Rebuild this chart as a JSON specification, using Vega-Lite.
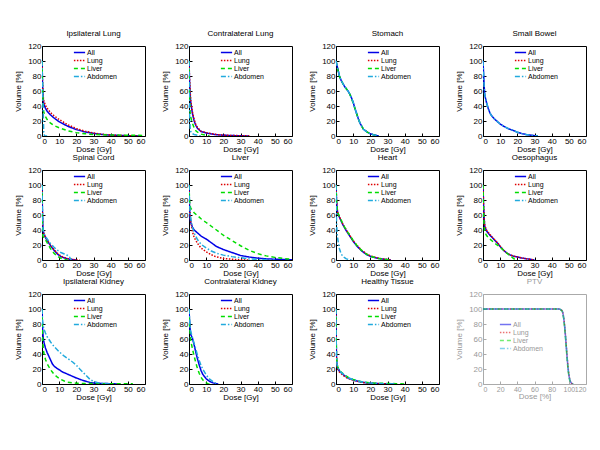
{
"$schema":"https://vega.github.io/schema/vega-lite/v6.json",
"padding":{"left":14,"top":29,"right":5,"bottom":5},
"config":{"font":"Liberation Sans","view":{"stroke":"black","strokeWidth":1},
"axis":{"labelFontSize":8,"titleFontSize":8,"titleFontWeight":"normal","domain":false,"grid":false,"tickSize":-3,"labelPadding":4,"tickColor":"black","labelColor":"black","titleColor":"black","titlePadding":0,"labelOverlap":false},
"axisY":{"titlePadding":5},
"title":{"fontSize":8,"fontWeight":"normal","offset":0,"color":"black","frame":"group"},
"legend":{"symbolType":"M-1.6,0H1.6","symbolSize":49,"symbolStrokeWidth":1.5,"labelFontSize":7,"rowPadding":0,"padding":0,"labelOffset":3,"title":null}},
"columns":4,
"align":"all",
"spacing":{"row":-1,"column":15},
"resolve":{"legend":{"color":"independent","strokeDash":"independent"}},
"datasets":{
"p1":[
{"s":"All","d":0,"v":100},{"s":"All","d":0.3,"v":70},{"s":"All","d":0.7,"v":50},{"s":"All","d":1,"v":43},{"s":"All","d":2,"v":37},{"s":"All","d":3,"v":33},{"s":"All","d":5,"v":28},{"s":"All","d":7,"v":24},{"s":"All","d":10,"v":19},{"s":"All","d":15,"v":13},{"s":"All","d":20,"v":8.5},{"s":"All","d":25,"v":5.5},{"s":"All","d":30,"v":3.5},{"s":"All","d":35,"v":2},{"s":"All","d":40,"v":1.2},{"s":"All","d":45,"v":0.7},{"s":"All","d":50,"v":0.4},{"s":"All","d":55,"v":0.2},{"s":"All","d":58,"v":0},
{"s":"Lung","d":0,"v":100},{"s":"Lung","d":0.3,"v":72},{"s":"Lung","d":0.7,"v":53},{"s":"Lung","d":1,"v":47},{"s":"Lung","d":2,"v":41},{"s":"Lung","d":3,"v":37},{"s":"Lung","d":5,"v":31},{"s":"Lung","d":7,"v":27},{"s":"Lung","d":10,"v":22},{"s":"Lung","d":15,"v":15},{"s":"Lung","d":20,"v":10},{"s":"Lung","d":25,"v":6.5},{"s":"Lung","d":30,"v":4},{"s":"Lung","d":35,"v":2.3},{"s":"Lung","d":40,"v":1.3},{"s":"Lung","d":45,"v":0.7},{"s":"Lung","d":50,"v":0.3},{"s":"Lung","d":55,"v":0.1},{"s":"Lung","d":58,"v":0},
{"s":"Liver","d":0,"v":100},{"s":"Liver","d":0.3,"v":65},{"s":"Liver","d":0.7,"v":40},{"s":"Liver","d":1,"v":32},{"s":"Liver","d":2,"v":26},{"s":"Liver","d":3,"v":22},{"s":"Liver","d":5,"v":17},{"s":"Liver","d":7,"v":14},{"s":"Liver","d":10,"v":11},{"s":"Liver","d":15,"v":7},{"s":"Liver","d":20,"v":4.5},{"s":"Liver","d":25,"v":3},{"s":"Liver","d":30,"v":2},{"s":"Liver","d":40,"v":1.3},{"s":"Liver","d":50,"v":1},{"s":"Liver","d":60,"v":0.8},
{"s":"Abdomen","d":0,"v":100},{"s":"Abdomen","d":0.5,"v":50},{"s":"Abdomen","d":1,"v":5},{"s":"Abdomen","d":1.5,"v":0},{"s":"Abdomen","d":3,"v":0}],
"p2":[
{"s":"All","d":0,"v":100},{"s":"All","d":0.3,"v":75},{"s":"All","d":0.7,"v":55},{"s":"All","d":1,"v":45},{"s":"All","d":2,"v":30},{"s":"All","d":3,"v":20},{"s":"All","d":4,"v":14},{"s":"All","d":5,"v":10},{"s":"All","d":7,"v":6},{"s":"All","d":10,"v":4},{"s":"All","d":15,"v":2},{"s":"All","d":20,"v":1},{"s":"All","d":25,"v":0.6},{"s":"All","d":30,"v":0.3},{"s":"All","d":35,"v":0},
{"s":"Lung","d":0,"v":100},{"s":"Lung","d":0.3,"v":78},{"s":"Lung","d":0.7,"v":58},{"s":"Lung","d":1,"v":48},{"s":"Lung","d":2,"v":32},{"s":"Lung","d":3,"v":22},{"s":"Lung","d":4,"v":15},{"s":"Lung","d":5,"v":11},{"s":"Lung","d":7,"v":6.5},{"s":"Lung","d":10,"v":4.5},{"s":"Lung","d":15,"v":2.2},{"s":"Lung","d":20,"v":1.2},{"s":"Lung","d":25,"v":0.7},{"s":"Lung","d":30,"v":0.4},{"s":"Lung","d":36,"v":0},
{"s":"Liver","d":0,"v":100},{"s":"Liver","d":0.3,"v":55},{"s":"Liver","d":0.7,"v":30},{"s":"Liver","d":1,"v":25},{"s":"Liver","d":2,"v":17},{"s":"Liver","d":3,"v":11},{"s":"Liver","d":4,"v":7},{"s":"Liver","d":5,"v":5},{"s":"Liver","d":7,"v":2.5},{"s":"Liver","d":10,"v":0.8},{"s":"Liver","d":12,"v":0},
{"s":"Abdomen","d":0,"v":100},{"s":"Abdomen","d":0.3,"v":30},{"s":"Abdomen","d":0.7,"v":10},{"s":"Abdomen","d":1,"v":6},{"s":"Abdomen","d":2,"v":3},{"s":"Abdomen","d":3,"v":2},{"s":"Abdomen","d":5,"v":1},{"s":"Abdomen","d":7,"v":0}],
"p3":[
{"s":"All","d":0,"v":100},{"s":"All","d":0.5,"v":95},{"s":"All","d":1,"v":90},{"s":"All","d":2,"v":80},{"s":"All","d":3,"v":74},{"s":"All","d":4,"v":70},{"s":"All","d":5,"v":66},{"s":"All","d":6,"v":63},{"s":"All","d":7,"v":60},{"s":"All","d":8,"v":56},{"s":"All","d":9,"v":51},{"s":"All","d":10,"v":45},{"s":"All","d":11,"v":37},{"s":"All","d":12,"v":30},{"s":"All","d":13,"v":23},{"s":"All","d":14,"v":17},{"s":"All","d":15,"v":13},{"s":"All","d":16,"v":9},{"s":"All","d":18,"v":5.5},{"s":"All","d":20,"v":3},{"s":"All","d":22,"v":1.5},{"s":"All","d":24,"v":0.5},{"s":"All","d":25,"v":0},
{"s":"Liver","d":0,"v":100},{"s":"Liver","d":0.5,"v":94},{"s":"Liver","d":1,"v":89},{"s":"Liver","d":2,"v":80},{"s":"Liver","d":3,"v":74},{"s":"Liver","d":4,"v":70},{"s":"Liver","d":5,"v":66},{"s":"Liver","d":6,"v":63},{"s":"Liver","d":7,"v":60},{"s":"Liver","d":8,"v":56},{"s":"Liver","d":9,"v":50},{"s":"Liver","d":10,"v":44},{"s":"Liver","d":11,"v":37},{"s":"Liver","d":12,"v":30},{"s":"Liver","d":13,"v":23},{"s":"Liver","d":14,"v":17},{"s":"Liver","d":15,"v":13},{"s":"Liver","d":16,"v":9},{"s":"Liver","d":18,"v":5.5},{"s":"Liver","d":20,"v":3},{"s":"Liver","d":22,"v":1.5},{"s":"Liver","d":24,"v":0.5},{"s":"Liver","d":25,"v":0},
{"s":"Abdomen","d":0,"v":100},{"s":"Abdomen","d":0.5,"v":95},{"s":"Abdomen","d":1,"v":90},{"s":"Abdomen","d":2,"v":80},{"s":"Abdomen","d":3,"v":74},{"s":"Abdomen","d":4,"v":70},{"s":"Abdomen","d":5,"v":66},{"s":"Abdomen","d":6,"v":63},{"s":"Abdomen","d":7,"v":60},{"s":"Abdomen","d":8,"v":56},{"s":"Abdomen","d":9,"v":51},{"s":"Abdomen","d":10,"v":45},{"s":"Abdomen","d":11,"v":37},{"s":"Abdomen","d":12,"v":30},{"s":"Abdomen","d":13,"v":23},{"s":"Abdomen","d":14,"v":17},{"s":"Abdomen","d":15,"v":13},{"s":"Abdomen","d":16,"v":9},{"s":"Abdomen","d":18,"v":5.5},{"s":"Abdomen","d":20,"v":3},{"s":"Abdomen","d":22,"v":1.5},{"s":"Abdomen","d":24,"v":0.5},{"s":"Abdomen","d":25,"v":0}],
"p4":[
{"s":"All","d":0,"v":100},{"s":"All","d":0.3,"v":85},{"s":"All","d":0.6,"v":70},{"s":"All","d":1,"v":55},{"s":"All","d":2,"v":45},{"s":"All","d":3,"v":37},{"s":"All","d":4,"v":31},{"s":"All","d":5,"v":27},{"s":"All","d":7,"v":22},{"s":"All","d":10,"v":16},{"s":"All","d":12,"v":13},{"s":"All","d":15,"v":9.5},{"s":"All","d":18,"v":7},{"s":"All","d":20,"v":5},{"s":"All","d":23,"v":3},{"s":"All","d":25,"v":2},{"s":"All","d":28,"v":1},{"s":"All","d":30,"v":0.5},{"s":"All","d":32,"v":0},
{"s":"Abdomen","d":0,"v":100},{"s":"Abdomen","d":0.3,"v":85},{"s":"Abdomen","d":0.6,"v":70},{"s":"Abdomen","d":1,"v":55},{"s":"Abdomen","d":2,"v":45},{"s":"Abdomen","d":3,"v":37},{"s":"Abdomen","d":4,"v":31},{"s":"Abdomen","d":5,"v":27},{"s":"Abdomen","d":7,"v":22},{"s":"Abdomen","d":10,"v":16},{"s":"Abdomen","d":12,"v":13},{"s":"Abdomen","d":15,"v":9.5},{"s":"Abdomen","d":18,"v":7},{"s":"Abdomen","d":20,"v":5},{"s":"Abdomen","d":23,"v":3},{"s":"Abdomen","d":25,"v":2},{"s":"Abdomen","d":28,"v":1},{"s":"Abdomen","d":30,"v":0.5},{"s":"Abdomen","d":32,"v":0}],
"p5":[
{"s":"All","d":0,"v":100},{"s":"All","d":0.2,"v":70},{"s":"All","d":0.5,"v":45},{"s":"All","d":1,"v":35},{"s":"All","d":2,"v":30},{"s":"All","d":3,"v":26},{"s":"All","d":5,"v":19},{"s":"All","d":7,"v":13},{"s":"All","d":9,"v":8},{"s":"All","d":10,"v":6},{"s":"All","d":12,"v":3.5},{"s":"All","d":15,"v":1.5},{"s":"All","d":18,"v":0.5},{"s":"All","d":20,"v":0},
{"s":"Lung","d":0,"v":100},{"s":"Lung","d":0.2,"v":68},{"s":"Lung","d":0.5,"v":44},{"s":"Lung","d":1,"v":36},{"s":"Lung","d":2,"v":31},{"s":"Lung","d":3,"v":27},{"s":"Lung","d":5,"v":20},{"s":"Lung","d":7,"v":14},{"s":"Lung","d":9,"v":9},{"s":"Lung","d":10,"v":7},{"s":"Lung","d":12,"v":4},{"s":"Lung","d":15,"v":2},{"s":"Lung","d":18,"v":0.7},{"s":"Lung","d":20,"v":0.2},{"s":"Lung","d":22,"v":0},
{"s":"Liver","d":0,"v":100},{"s":"Liver","d":0.2,"v":50},{"s":"Liver","d":0.5,"v":32},{"s":"Liver","d":1,"v":30},{"s":"Liver","d":2,"v":27},{"s":"Liver","d":3,"v":23},{"s":"Liver","d":5,"v":15},{"s":"Liver","d":7,"v":9},{"s":"Liver","d":9,"v":5},{"s":"Liver","d":10,"v":3.5},{"s":"Liver","d":12,"v":1.5},{"s":"Liver","d":14,"v":0.5},{"s":"Liver","d":15,"v":0},
{"s":"Abdomen","d":0,"v":100},{"s":"Abdomen","d":0.3,"v":60},{"s":"Abdomen","d":0.7,"v":40},{"s":"Abdomen","d":1,"v":36},{"s":"Abdomen","d":2,"v":32},{"s":"Abdomen","d":3,"v":28},{"s":"Abdomen","d":5,"v":22},{"s":"Abdomen","d":7,"v":17},{"s":"Abdomen","d":9,"v":13},{"s":"Abdomen","d":11,"v":10},{"s":"Abdomen","d":13,"v":8},{"s":"Abdomen","d":15,"v":6},{"s":"Abdomen","d":16,"v":4},{"s":"Abdomen","d":17,"v":0}],
"p6":[
{"s":"All","d":0,"v":100},{"s":"All","d":0.3,"v":70},{"s":"All","d":0.7,"v":55},{"s":"All","d":1,"v":50},{"s":"All","d":2,"v":44},{"s":"All","d":3,"v":40},{"s":"All","d":5,"v":36},{"s":"All","d":7,"v":32},{"s":"All","d":10,"v":28},{"s":"All","d":13,"v":23},{"s":"All","d":16,"v":18},{"s":"All","d":20,"v":14},{"s":"All","d":25,"v":10},{"s":"All","d":30,"v":6},{"s":"All","d":35,"v":4},{"s":"All","d":40,"v":2.5},{"s":"All","d":45,"v":1.5},{"s":"All","d":50,"v":1},{"s":"All","d":55,"v":0.6},{"s":"All","d":60,"v":0.3},
{"s":"Lung","d":0,"v":100},{"s":"Lung","d":0.3,"v":70},{"s":"Lung","d":0.7,"v":58},{"s":"Lung","d":1,"v":52},{"s":"Lung","d":2,"v":38},{"s":"Lung","d":3,"v":30},{"s":"Lung","d":5,"v":22},{"s":"Lung","d":7,"v":16},{"s":"Lung","d":10,"v":11},{"s":"Lung","d":13,"v":7},{"s":"Lung","d":15,"v":5},{"s":"Lung","d":18,"v":3},{"s":"Lung","d":20,"v":2},{"s":"Lung","d":25,"v":1},{"s":"Lung","d":30,"v":0.3},{"s":"Lung","d":35,"v":0},
{"s":"Liver","d":0,"v":100},{"s":"Liver","d":0.3,"v":80},{"s":"Liver","d":0.7,"v":72},{"s":"Liver","d":1,"v":69},{"s":"Liver","d":2,"v":66},{"s":"Liver","d":3,"v":63},{"s":"Liver","d":5,"v":59},{"s":"Liver","d":7,"v":55},{"s":"Liver","d":10,"v":50},{"s":"Liver","d":13,"v":45},{"s":"Liver","d":16,"v":40},{"s":"Liver","d":20,"v":33},{"s":"Liver","d":25,"v":26},{"s":"Liver","d":30,"v":19},{"s":"Liver","d":35,"v":13},{"s":"Liver","d":40,"v":8.5},{"s":"Liver","d":45,"v":5.5},{"s":"Liver","d":50,"v":3.5},{"s":"Liver","d":55,"v":2},{"s":"Liver","d":60,"v":1},
{"s":"Abdomen","d":0,"v":100},{"s":"Abdomen","d":0.3,"v":75},{"s":"Abdomen","d":0.7,"v":62},{"s":"Abdomen","d":1,"v":56},{"s":"Abdomen","d":2,"v":44},{"s":"Abdomen","d":3,"v":36},{"s":"Abdomen","d":5,"v":27},{"s":"Abdomen","d":7,"v":21},{"s":"Abdomen","d":10,"v":16},{"s":"Abdomen","d":13,"v":12},{"s":"Abdomen","d":16,"v":9},{"s":"Abdomen","d":20,"v":6.5},{"s":"Abdomen","d":25,"v":4.5},{"s":"Abdomen","d":30,"v":3},{"s":"Abdomen","d":35,"v":1.5},{"s":"Abdomen","d":40,"v":0.8},{"s":"Abdomen","d":45,"v":0.3},{"s":"Abdomen","d":50,"v":0}],
"p7":[
{"s":"All","d":0,"v":100},{"s":"All","d":0.3,"v":80},{"s":"All","d":0.7,"v":68},{"s":"All","d":1,"v":62},{"s":"All","d":2,"v":57},{"s":"All","d":3,"v":52},{"s":"All","d":4,"v":47},{"s":"All","d":5,"v":43},{"s":"All","d":6,"v":39},{"s":"All","d":8,"v":32},{"s":"All","d":10,"v":25},{"s":"All","d":12,"v":19},{"s":"All","d":15,"v":12},{"s":"All","d":18,"v":7},{"s":"All","d":20,"v":5},{"s":"All","d":23,"v":3},{"s":"All","d":25,"v":2},{"s":"All","d":28,"v":1},{"s":"All","d":30,"v":0.5},{"s":"All","d":32,"v":0},
{"s":"Lung","d":0,"v":100},{"s":"Lung","d":0.3,"v":81},{"s":"Lung","d":0.7,"v":69},{"s":"Lung","d":1,"v":63},{"s":"Lung","d":2,"v":58},{"s":"Lung","d":3,"v":53},{"s":"Lung","d":4,"v":48},{"s":"Lung","d":5,"v":44},{"s":"Lung","d":6,"v":40},{"s":"Lung","d":8,"v":33},{"s":"Lung","d":10,"v":26},{"s":"Lung","d":12,"v":20},{"s":"Lung","d":15,"v":13},{"s":"Lung","d":18,"v":8},{"s":"Lung","d":20,"v":5.5},{"s":"Lung","d":23,"v":3.5},{"s":"Lung","d":25,"v":2.3},{"s":"Lung","d":28,"v":1.2},{"s":"Lung","d":30,"v":0.6},{"s":"Lung","d":32,"v":0},
{"s":"Liver","d":0,"v":100},{"s":"Liver","d":0.3,"v":80},{"s":"Liver","d":0.7,"v":68},{"s":"Liver","d":1,"v":63},{"s":"Liver","d":2,"v":58},{"s":"Liver","d":3,"v":53},{"s":"Liver","d":4,"v":48},{"s":"Liver","d":5,"v":44},{"s":"Liver","d":6,"v":40},{"s":"Liver","d":8,"v":33},{"s":"Liver","d":10,"v":26},{"s":"Liver","d":12,"v":20},{"s":"Liver","d":15,"v":12.5},{"s":"Liver","d":18,"v":7.5},{"s":"Liver","d":20,"v":5},{"s":"Liver","d":23,"v":3},{"s":"Liver","d":25,"v":2},{"s":"Liver","d":28,"v":1},{"s":"Liver","d":30,"v":0.5},{"s":"Liver","d":31,"v":0},
{"s":"Abdomen","d":0,"v":100},{"s":"Abdomen","d":0.3,"v":50},{"s":"Abdomen","d":0.7,"v":35},{"s":"Abdomen","d":1,"v":28},{"s":"Abdomen","d":2,"v":15},{"s":"Abdomen","d":3,"v":8},{"s":"Abdomen","d":4,"v":5},{"s":"Abdomen","d":5,"v":3},{"s":"Abdomen","d":6,"v":1.5},{"s":"Abdomen","d":8,"v":0.5},{"s":"Abdomen","d":9,"v":0}],
"p8":[
{"s":"All","d":0,"v":100},{"s":"All","d":0.3,"v":75},{"s":"All","d":0.7,"v":55},{"s":"All","d":1,"v":45},{"s":"All","d":2,"v":39},{"s":"All","d":3,"v":36},{"s":"All","d":4,"v":33},{"s":"All","d":5,"v":31},{"s":"All","d":7,"v":26},{"s":"All","d":9,"v":21},{"s":"All","d":10,"v":18},{"s":"All","d":12,"v":13},{"s":"All","d":14,"v":9},{"s":"All","d":16,"v":6.5},{"s":"All","d":18,"v":5},{"s":"All","d":20,"v":4},{"s":"All","d":23,"v":2.5},{"s":"All","d":25,"v":1.8},{"s":"All","d":28,"v":0.8},{"s":"All","d":30,"v":0},
{"s":"Lung","d":0,"v":100},{"s":"Lung","d":0.3,"v":76},{"s":"Lung","d":0.7,"v":56},{"s":"Lung","d":1,"v":46},{"s":"Lung","d":2,"v":40},{"s":"Lung","d":3,"v":37},{"s":"Lung","d":4,"v":34},{"s":"Lung","d":5,"v":31.5},{"s":"Lung","d":7,"v":26.5},{"s":"Lung","d":9,"v":21.5},{"s":"Lung","d":10,"v":18.5},{"s":"Lung","d":12,"v":13},{"s":"Lung","d":14,"v":9},{"s":"Lung","d":16,"v":6.5},{"s":"Lung","d":18,"v":5},{"s":"Lung","d":20,"v":4},{"s":"Lung","d":23,"v":2.5},{"s":"Lung","d":25,"v":1.8},{"s":"Lung","d":28,"v":0.8},{"s":"Lung","d":30,"v":0},
{"s":"Liver","d":0,"v":100},{"s":"Liver","d":0.3,"v":65},{"s":"Liver","d":0.7,"v":45},{"s":"Liver","d":1,"v":37},{"s":"Liver","d":2,"v":33},{"s":"Liver","d":3,"v":30},{"s":"Liver","d":5,"v":26},{"s":"Liver","d":7,"v":22},{"s":"Liver","d":9,"v":19},{"s":"Liver","d":11,"v":15},{"s":"Liver","d":13,"v":11},{"s":"Liver","d":15,"v":7},{"s":"Liver","d":17,"v":3.5},{"s":"Liver","d":19,"v":0}],
"p9":[
{"s":"All","d":0,"v":100},{"s":"All","d":0.3,"v":75},{"s":"All","d":0.7,"v":62},{"s":"All","d":1,"v":57},{"s":"All","d":2,"v":48},{"s":"All","d":3,"v":42},{"s":"All","d":4,"v":37},{"s":"All","d":5,"v":32},{"s":"All","d":6,"v":27},{"s":"All","d":7,"v":24},{"s":"All","d":8,"v":22},{"s":"All","d":10,"v":19},{"s":"All","d":12,"v":16},{"s":"All","d":15,"v":13},{"s":"All","d":18,"v":10},{"s":"All","d":20,"v":8},{"s":"All","d":23,"v":5.5},{"s":"All","d":25,"v":4},{"s":"All","d":28,"v":2},{"s":"All","d":30,"v":1.2},{"s":"All","d":35,"v":0.7},{"s":"All","d":40,"v":0.4},{"s":"All","d":45,"v":0},
{"s":"Liver","d":0,"v":100},{"s":"Liver","d":0.3,"v":65},{"s":"Liver","d":0.7,"v":48},{"s":"Liver","d":1,"v":42},{"s":"Liver","d":2,"v":33},{"s":"Liver","d":3,"v":27},{"s":"Liver","d":4,"v":23},{"s":"Liver","d":5,"v":19},{"s":"Liver","d":7,"v":13},{"s":"Liver","d":9,"v":9},{"s":"Liver","d":11,"v":6},{"s":"Liver","d":13,"v":4},{"s":"Liver","d":15,"v":2.5},{"s":"Liver","d":18,"v":1.5},{"s":"Liver","d":20,"v":1},{"s":"Liver","d":25,"v":0.6},{"s":"Liver","d":30,"v":0.5},{"s":"Liver","d":40,"v":0.4},{"s":"Liver","d":52,"v":0.3},{"s":"Liver","d":53,"v":0},
{"s":"Abdomen","d":0,"v":100},{"s":"Abdomen","d":0.3,"v":85},{"s":"Abdomen","d":0.7,"v":78},{"s":"Abdomen","d":1,"v":74},{"s":"Abdomen","d":2,"v":68},{"s":"Abdomen","d":3,"v":63},{"s":"Abdomen","d":5,"v":56},{"s":"Abdomen","d":7,"v":50},{"s":"Abdomen","d":10,"v":43},{"s":"Abdomen","d":13,"v":37},{"s":"Abdomen","d":15,"v":34},{"s":"Abdomen","d":18,"v":29},{"s":"Abdomen","d":20,"v":25},{"s":"Abdomen","d":22,"v":20},{"s":"Abdomen","d":25,"v":13},{"s":"Abdomen","d":28,"v":6},{"s":"Abdomen","d":30,"v":3.5},{"s":"Abdomen","d":33,"v":1.5},{"s":"Abdomen","d":35,"v":0.8},{"s":"Abdomen","d":40,"v":0}],
"p10":[
{"s":"All","d":0,"v":100},{"s":"All","d":0.3,"v":85},{"s":"All","d":0.7,"v":72},{"s":"All","d":1,"v":66},{"s":"All","d":2,"v":61},{"s":"All","d":3,"v":52},{"s":"All","d":4,"v":42},{"s":"All","d":5,"v":33},{"s":"All","d":6,"v":25},{"s":"All","d":7,"v":18},{"s":"All","d":8,"v":13},{"s":"All","d":10,"v":7},{"s":"All","d":12,"v":3.5},{"s":"All","d":14,"v":1.5},{"s":"All","d":16,"v":0.3},{"s":"All","d":17,"v":0},
{"s":"Liver","d":0,"v":100},{"s":"Liver","d":0.3,"v":80},{"s":"Liver","d":0.7,"v":65},{"s":"Liver","d":1,"v":58},{"s":"Liver","d":2,"v":47},{"s":"Liver","d":3,"v":37},{"s":"Liver","d":4,"v":28},{"s":"Liver","d":5,"v":20},{"s":"Liver","d":6,"v":14},{"s":"Liver","d":7,"v":9},{"s":"Liver","d":8,"v":5.5},{"s":"Liver","d":10,"v":1.5},{"s":"Liver","d":11,"v":0.5},{"s":"Liver","d":12,"v":0},
{"s":"Abdomen","d":0,"v":100},{"s":"Abdomen","d":0.3,"v":88},{"s":"Abdomen","d":0.7,"v":76},{"s":"Abdomen","d":1,"v":70},{"s":"Abdomen","d":2,"v":62},{"s":"Abdomen","d":3,"v":54},{"s":"Abdomen","d":4,"v":46},{"s":"Abdomen","d":5,"v":38},{"s":"Abdomen","d":6,"v":31},{"s":"Abdomen","d":7,"v":25},{"s":"Abdomen","d":8,"v":20},{"s":"Abdomen","d":10,"v":12},{"s":"Abdomen","d":12,"v":6.5},{"s":"Abdomen","d":14,"v":3},{"s":"Abdomen","d":16,"v":0.5},{"s":"Abdomen","d":17,"v":0}],
"p11":[
{"s":"All","d":0,"v":100},{"s":"All","d":0.1,"v":60},{"s":"All","d":0.3,"v":35},{"s":"All","d":0.6,"v":25},{"s":"All","d":1,"v":21},{"s":"All","d":2,"v":17},{"s":"All","d":3,"v":15},{"s":"All","d":5,"v":11},{"s":"All","d":7,"v":8},{"s":"All","d":10,"v":5.5},{"s":"All","d":12,"v":4},{"s":"All","d":15,"v":2.5},{"s":"All","d":18,"v":1.5},{"s":"All","d":20,"v":1},{"s":"All","d":25,"v":0.5},{"s":"All","d":30,"v":0.3},{"s":"All","d":35,"v":0},
{"s":"Lung","d":0,"v":100},{"s":"Lung","d":0.1,"v":55},{"s":"Lung","d":0.3,"v":32},{"s":"Lung","d":0.6,"v":24},{"s":"Lung","d":1,"v":20},{"s":"Lung","d":2,"v":16},{"s":"Lung","d":3,"v":14},{"s":"Lung","d":5,"v":10},{"s":"Lung","d":7,"v":7.5},{"s":"Lung","d":10,"v":5},{"s":"Lung","d":15,"v":2.2},{"s":"Lung","d":20,"v":1},{"s":"Lung","d":25,"v":0.5},{"s":"Lung","d":30,"v":0.2},{"s":"Lung","d":33,"v":0},
{"s":"Liver","d":0,"v":100},{"s":"Liver","d":0.1,"v":65},{"s":"Liver","d":0.3,"v":38},{"s":"Liver","d":0.6,"v":27},{"s":"Liver","d":1,"v":23},{"s":"Liver","d":2,"v":18},{"s":"Liver","d":3,"v":16},{"s":"Liver","d":5,"v":12},{"s":"Liver","d":7,"v":9},{"s":"Liver","d":10,"v":6},{"s":"Liver","d":15,"v":3},{"s":"Liver","d":20,"v":1.5},{"s":"Liver","d":25,"v":1},{"s":"Liver","d":30,"v":0.7},{"s":"Liver","d":35,"v":0.5},{"s":"Liver","d":40,"v":0},
{"s":"Abdomen","d":0,"v":100},{"s":"Abdomen","d":0.1,"v":62},{"s":"Abdomen","d":0.3,"v":36},{"s":"Abdomen","d":0.6,"v":26},{"s":"Abdomen","d":1,"v":22},{"s":"Abdomen","d":2,"v":18},{"s":"Abdomen","d":3,"v":15.5},{"s":"Abdomen","d":5,"v":11.5},{"s":"Abdomen","d":7,"v":8.5},{"s":"Abdomen","d":10,"v":5.8},{"s":"Abdomen","d":15,"v":2.8},{"s":"Abdomen","d":20,"v":1.2},{"s":"Abdomen","d":25,"v":0.6},{"s":"Abdomen","d":30,"v":0.3},{"s":"Abdomen","d":35,"v":0}],
"p12":[
{"s":"All","d":0,"v":100},{"s":"All","d":88,"v":100},{"s":"All","d":90,"v":99.5},{"s":"All","d":92,"v":98},{"s":"All","d":93,"v":95},{"s":"All","d":94,"v":88},{"s":"All","d":95,"v":78},{"s":"All","d":96,"v":65},{"s":"All","d":97,"v":50},{"s":"All","d":98,"v":35},{"s":"All","d":99,"v":22},{"s":"All","d":100,"v":12},{"s":"All","d":101,"v":6},{"s":"All","d":102,"v":3},{"s":"All","d":103,"v":1},{"s":"All","d":105,"v":0},
{"s":"Lung","d":0,"v":100},{"s":"Lung","d":88,"v":100},{"s":"Lung","d":90,"v":99.5},{"s":"Lung","d":92,"v":98},{"s":"Lung","d":93,"v":95},{"s":"Lung","d":94,"v":89},{"s":"Lung","d":95,"v":80},{"s":"Lung","d":96,"v":67},{"s":"Lung","d":97,"v":52},{"s":"Lung","d":98,"v":37},{"s":"Lung","d":99,"v":24},{"s":"Lung","d":100,"v":13},{"s":"Lung","d":101,"v":7},{"s":"Lung","d":102,"v":3},{"s":"Lung","d":103,"v":1},{"s":"Lung","d":105,"v":0},
{"s":"Liver","d":0,"v":100},{"s":"Liver","d":88,"v":100},{"s":"Liver","d":90,"v":99.5},{"s":"Liver","d":92,"v":97.5},{"s":"Liver","d":93,"v":94},{"s":"Liver","d":94,"v":87},{"s":"Liver","d":95,"v":76},{"s":"Liver","d":96,"v":63},{"s":"Liver","d":97,"v":48},{"s":"Liver","d":98,"v":33},{"s":"Liver","d":99,"v":20},{"s":"Liver","d":100,"v":11},{"s":"Liver","d":101,"v":5},{"s":"Liver","d":102,"v":2},{"s":"Liver","d":103,"v":0.8},{"s":"Liver","d":105,"v":0},
{"s":"Abdomen","d":0,"v":100},{"s":"Abdomen","d":88,"v":100},{"s":"Abdomen","d":90,"v":99.5},{"s":"Abdomen","d":92,"v":98},{"s":"Abdomen","d":93,"v":95},{"s":"Abdomen","d":94,"v":88},{"s":"Abdomen","d":95,"v":79},{"s":"Abdomen","d":96,"v":66},{"s":"Abdomen","d":97,"v":51},{"s":"Abdomen","d":98,"v":36},{"s":"Abdomen","d":99,"v":23},{"s":"Abdomen","d":100,"v":12},{"s":"Abdomen","d":101,"v":6},{"s":"Abdomen","d":102,"v":3},{"s":"Abdomen","d":103,"v":1},{"s":"Abdomen","d":105,"v":0}]
},
"concat":[
{"data":{"name":"p1"},"title":"Ipsilateral Lung","width":103,"height":90,"mark":{"type":"line","strokeWidth":1.5,"clip":true},"encoding":{"x":{"field":"d","type":"quantitative","scale":{"domain":[0,60]},"axis":{"title":"Dose [Gy]","values":[0,10,20,30,40,50,60]}},"y":{"field":"v","type":"quantitative","scale":{"domain":[0,120]},"axis":{"title":"Volume [%]","values":[0,20,40,60,80,100,120]}},"color":{"field":"s","type":"nominal","scale":{"domain":["All","Lung","Liver","Abdomen"],"range":["#0000e6","#dd0000","#00dd00","#22aadd"]},"legend":{"orient":"none","legendX":33,"legendY":2}},"strokeDash":{"field":"s","type":"nominal","scale":{"domain":["All","Lung","Liver","Abdomen"],"range":[[1,0],[1.5,1.5],[4,3],[5,2,1.5,2]]},"legend":{"orient":"none","legendX":33,"legendY":2}}}},
{"data":{"name":"p2"},"title":"Contralateral Lung","width":103,"height":90,"mark":{"type":"line","strokeWidth":1.5,"clip":true},"encoding":{"x":{"field":"d","type":"quantitative","scale":{"domain":[0,60]},"axis":{"title":"Dose [Gy]","values":[0,10,20,30,40,50,60]}},"y":{"field":"v","type":"quantitative","scale":{"domain":[0,120]},"axis":{"title":"Volume [%]","values":[0,20,40,60,80,100,120]}},"color":{"field":"s","type":"nominal","scale":{"domain":["All","Lung","Liver","Abdomen"],"range":["#0000e6","#dd0000","#00dd00","#22aadd"]},"legend":{"orient":"none","legendX":33,"legendY":2}},"strokeDash":{"field":"s","type":"nominal","scale":{"domain":["All","Lung","Liver","Abdomen"],"range":[[1,0],[1.5,1.5],[4,3],[5,2,1.5,2]]},"legend":{"orient":"none","legendX":33,"legendY":2}}}},
{"data":{"name":"p3"},"title":"Stomach","width":103,"height":90,"mark":{"type":"line","strokeWidth":1.5,"clip":true},"encoding":{"x":{"field":"d","type":"quantitative","scale":{"domain":[0,60]},"axis":{"title":"Dose [Gy]","values":[0,10,20,30,40,50,60]}},"y":{"field":"v","type":"quantitative","scale":{"domain":[0,120]},"axis":{"title":"Volume [%]","values":[0,20,40,60,80,100,120]}},"color":{"field":"s","type":"nominal","scale":{"domain":["All","Lung","Liver","Abdomen"],"range":["#0000e6","#dd0000","#00dd00","#22aadd"]},"legend":{"orient":"none","legendX":33,"legendY":2}},"strokeDash":{"field":"s","type":"nominal","scale":{"domain":["All","Lung","Liver","Abdomen"],"range":[[1,0],[1.5,1.5],[4,3],[5,2,1.5,2]]},"legend":{"orient":"none","legendX":33,"legendY":2}}}},
{"data":{"name":"p4"},"title":"Small Bowel","width":103,"height":90,"mark":{"type":"line","strokeWidth":1.5,"clip":true},"encoding":{"x":{"field":"d","type":"quantitative","scale":{"domain":[0,60]},"axis":{"title":"Dose [Gy]","values":[0,10,20,30,40,50,60]}},"y":{"field":"v","type":"quantitative","scale":{"domain":[0,120]},"axis":{"title":"Volume [%]","values":[0,20,40,60,80,100,120]}},"color":{"field":"s","type":"nominal","scale":{"domain":["All","Lung","Liver","Abdomen"],"range":["#0000e6","#dd0000","#00dd00","#22aadd"]},"legend":{"orient":"none","legendX":33,"legendY":2}},"strokeDash":{"field":"s","type":"nominal","scale":{"domain":["All","Lung","Liver","Abdomen"],"range":[[1,0],[1.5,1.5],[4,3],[5,2,1.5,2]]},"legend":{"orient":"none","legendX":33,"legendY":2}}}},
{"data":{"name":"p5"},"title":"Spinal Cord","width":103,"height":90,"mark":{"type":"line","strokeWidth":1.5,"clip":true},"encoding":{"x":{"field":"d","type":"quantitative","scale":{"domain":[0,60]},"axis":{"title":"Dose [Gy]","values":[0,10,20,30,40,50,60]}},"y":{"field":"v","type":"quantitative","scale":{"domain":[0,120]},"axis":{"title":"Volume [%]","values":[0,20,40,60,80,100,120]}},"color":{"field":"s","type":"nominal","scale":{"domain":["All","Lung","Liver","Abdomen"],"range":["#0000e6","#dd0000","#00dd00","#22aadd"]},"legend":{"orient":"none","legendX":33,"legendY":2}},"strokeDash":{"field":"s","type":"nominal","scale":{"domain":["All","Lung","Liver","Abdomen"],"range":[[1,0],[1.5,1.5],[4,3],[5,2,1.5,2]]},"legend":{"orient":"none","legendX":33,"legendY":2}}}},
{"data":{"name":"p6"},"title":"Liver","width":103,"height":90,"mark":{"type":"line","strokeWidth":1.5,"clip":true},"encoding":{"x":{"field":"d","type":"quantitative","scale":{"domain":[0,60]},"axis":{"title":"Dose [Gy]","values":[0,10,20,30,40,50,60]}},"y":{"field":"v","type":"quantitative","scale":{"domain":[0,120]},"axis":{"title":"Volume [%]","values":[0,20,40,60,80,100,120]}},"color":{"field":"s","type":"nominal","scale":{"domain":["All","Lung","Liver","Abdomen"],"range":["#0000e6","#dd0000","#00dd00","#22aadd"]},"legend":{"orient":"none","legendX":33,"legendY":2}},"strokeDash":{"field":"s","type":"nominal","scale":{"domain":["All","Lung","Liver","Abdomen"],"range":[[1,0],[1.5,1.5],[4,3],[5,2,1.5,2]]},"legend":{"orient":"none","legendX":33,"legendY":2}}}},
{"data":{"name":"p7"},"title":"Heart","width":103,"height":90,"mark":{"type":"line","strokeWidth":1.5,"clip":true},"encoding":{"x":{"field":"d","type":"quantitative","scale":{"domain":[0,60]},"axis":{"title":"Dose [Gy]","values":[0,10,20,30,40,50,60]}},"y":{"field":"v","type":"quantitative","scale":{"domain":[0,120]},"axis":{"title":"Volume [%]","values":[0,20,40,60,80,100,120]}},"color":{"field":"s","type":"nominal","scale":{"domain":["All","Lung","Liver","Abdomen"],"range":["#0000e6","#dd0000","#00dd00","#22aadd"]},"legend":{"orient":"none","legendX":33,"legendY":2}},"strokeDash":{"field":"s","type":"nominal","scale":{"domain":["All","Lung","Liver","Abdomen"],"range":[[1,0],[1.5,1.5],[4,3],[5,2,1.5,2]]},"legend":{"orient":"none","legendX":33,"legendY":2}}}},
{"data":{"name":"p8"},"title":"Oesophagus","width":103,"height":90,"mark":{"type":"line","strokeWidth":1.5,"clip":true},"encoding":{"x":{"field":"d","type":"quantitative","scale":{"domain":[0,60]},"axis":{"title":"Dose [Gy]","values":[0,10,20,30,40,50,60]}},"y":{"field":"v","type":"quantitative","scale":{"domain":[0,120]},"axis":{"title":"Volume [%]","values":[0,20,40,60,80,100,120]}},"color":{"field":"s","type":"nominal","scale":{"domain":["All","Lung","Liver","Abdomen"],"range":["#0000e6","#dd0000","#00dd00","#22aadd"]},"legend":{"orient":"none","legendX":33,"legendY":2}},"strokeDash":{"field":"s","type":"nominal","scale":{"domain":["All","Lung","Liver","Abdomen"],"range":[[1,0],[1.5,1.5],[4,3],[5,2,1.5,2]]},"legend":{"orient":"none","legendX":33,"legendY":2}}}},
{"data":{"name":"p9"},"title":"Ipsilateral Kidney","width":103,"height":90,"mark":{"type":"line","strokeWidth":1.5,"clip":true},"encoding":{"x":{"field":"d","type":"quantitative","scale":{"domain":[0,60]},"axis":{"title":"Dose [Gy]","values":[0,10,20,30,40,50,60]}},"y":{"field":"v","type":"quantitative","scale":{"domain":[0,120]},"axis":{"title":"Volume [%]","values":[0,20,40,60,80,100,120]}},"color":{"field":"s","type":"nominal","scale":{"domain":["All","Lung","Liver","Abdomen"],"range":["#0000e6","#dd0000","#00dd00","#22aadd"]},"legend":{"orient":"none","legendX":33,"legendY":2}},"strokeDash":{"field":"s","type":"nominal","scale":{"domain":["All","Lung","Liver","Abdomen"],"range":[[1,0],[1.5,1.5],[4,3],[5,2,1.5,2]]},"legend":{"orient":"none","legendX":33,"legendY":2}}}},
{"data":{"name":"p10"},"title":"Contralateral Kidney","width":103,"height":90,"mark":{"type":"line","strokeWidth":1.5,"clip":true},"encoding":{"x":{"field":"d","type":"quantitative","scale":{"domain":[0,60]},"axis":{"title":"Dose [Gy]","values":[0,10,20,30,40,50,60]}},"y":{"field":"v","type":"quantitative","scale":{"domain":[0,120]},"axis":{"title":"Volume [%]","values":[0,20,40,60,80,100,120]}},"color":{"field":"s","type":"nominal","scale":{"domain":["All","Lung","Liver","Abdomen"],"range":["#0000e6","#dd0000","#00dd00","#22aadd"]},"legend":{"orient":"none","legendX":33,"legendY":2}},"strokeDash":{"field":"s","type":"nominal","scale":{"domain":["All","Lung","Liver","Abdomen"],"range":[[1,0],[1.5,1.5],[4,3],[5,2,1.5,2]]},"legend":{"orient":"none","legendX":33,"legendY":2}}}},
{"data":{"name":"p11"},"title":"Healthy Tissue","width":103,"height":90,"mark":{"type":"line","strokeWidth":1.5,"clip":true},"encoding":{"x":{"field":"d","type":"quantitative","scale":{"domain":[0,60]},"axis":{"title":"Dose [Gy]","values":[0,10,20,30,40,50,60]}},"y":{"field":"v","type":"quantitative","scale":{"domain":[0,120]},"axis":{"title":"Volume [%]","values":[0,20,40,60,80,100,120]}},"color":{"field":"s","type":"nominal","scale":{"domain":["All","Lung","Liver","Abdomen"],"range":["#0000e6","#dd0000","#00dd00","#22aadd"]},"legend":{"orient":"none","legendX":33,"legendY":2}},"strokeDash":{"field":"s","type":"nominal","scale":{"domain":["All","Lung","Liver","Abdomen"],"range":[[1,0],[1.5,1.5],[4,3],[5,2,1.5,2]]},"legend":{"orient":"none","legendX":33,"legendY":2}}}},
{"data":{"name":"p12"},"title":{"text":"PTV","color":"#999999"},"width":103,"height":90,"view":{"stroke":"#aaaaaa"},"mark":{"type":"line","strokeWidth":1.5,"clip":true,"opacity":0.55},"encoding":{"x":{"field":"d","type":"quantitative","scale":{"domain":[0,120]},"axis":{"title":"Dose [%]","values":[0,20,40,60,80,100,120],"labelFontSize":7,"labelColor":"#999999","titleColor":"#999999","tickColor":"#aaaaaa"}},"y":{"field":"v","type":"quantitative","scale":{"domain":[0,120]},"axis":{"title":"Volume [%]","values":[0,20,40,60,80,100,120],"labelColor":"#999999","titleColor":"#999999","tickColor":"#aaaaaa"}},"color":{"field":"s","type":"nominal","scale":{"domain":["All","Lung","Liver","Abdomen"],"range":["#0000e6","#dd0000","#00dd00","#22aadd"]},"legend":{"orient":"none","legendX":18,"legendY":26,"labelColor":"#999999","symbolOpacity":0.55}},"strokeDash":{"field":"s","type":"nominal","scale":{"domain":["All","Lung","Liver","Abdomen"],"range":[[1,0],[1.5,1.5],[4,3],[5,2,1.5,2]]},"legend":{"orient":"none","legendX":18,"legendY":26,"labelColor":"#999999","symbolOpacity":0.55}}}}
]
}
